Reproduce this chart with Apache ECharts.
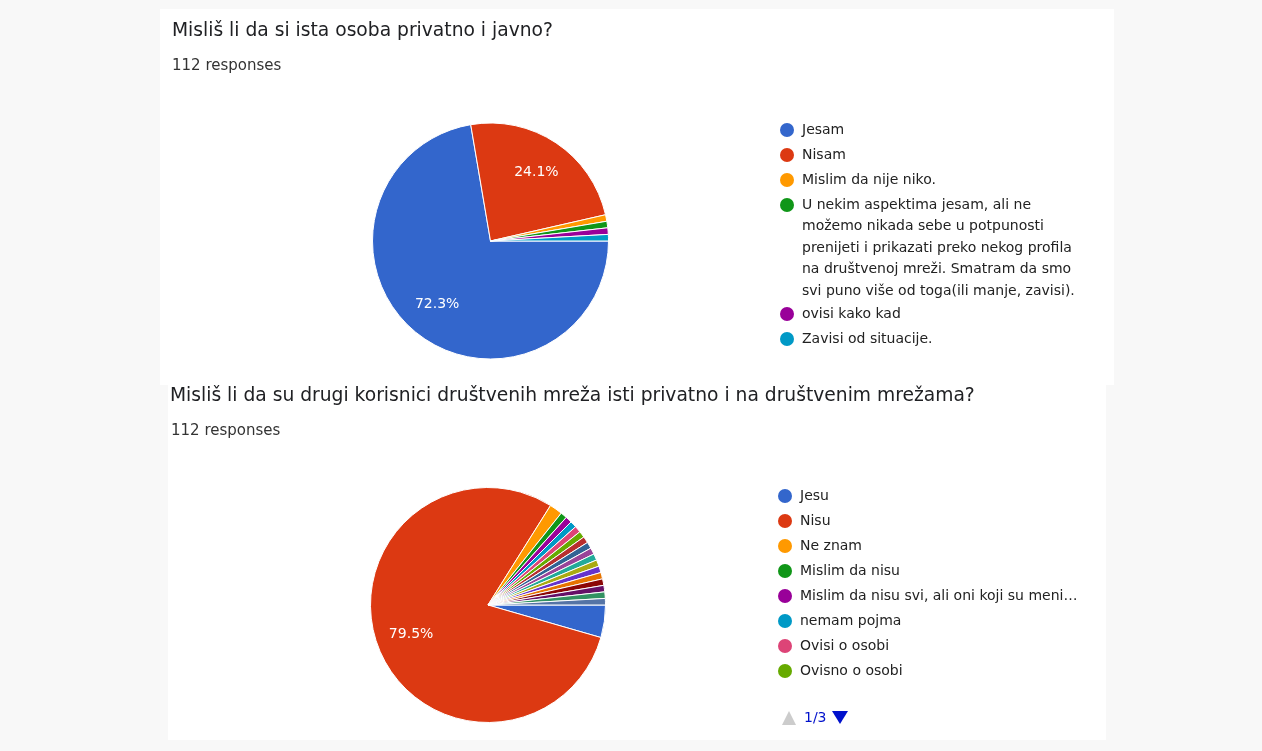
<!DOCTYPE html>
<html>
<head>
<meta charset="utf-8">
<script src="https://cdn.jsdelivr.net/npm/echarts@6/dist/echarts.min.js"></script>
<style>
  html, body { margin: 0; padding: 0; background: #f8f8f8; }
  #chart { width: 1262px; height: 751px; }
</style>
</head>
<body>
<div id="chart"></div>
<script>
// Survey results: two pie charts, one per question.
const FONT = '"DejaVu Sans", sans-serif';

// Google-style slice palette, assigned in data order.
const PALETTE = ['#3366cc', '#dc3912', '#ff9900', '#109618', '#990099', '#0099c6',
  '#dd4477', '#66aa00', '#b82e2e', '#316395', '#994499', '#22aa99', '#aaaa11',
  '#6633cc', '#e67300', '#8b0707', '#651067', '#329262', '#5574a6', '#3b3eac'];

// Question 1
const q1Title = 'Misliš li da si ista osoba privatno i javno?';
const q1Responses = '112 responses';
const q1Categories = [
  'Jesam',
  'Nisam',
  'Mislim da nije niko.',
  'U nekim aspektima jesam, ali ne možemo nikada sebe u potpunosti prenijeti i prikazati preko nekog profila na društvenoj mreži. Smatram da smo svi puno više od toga(ili manje, zavisi).',
  'ovisi kako kad',
  'Zavisi od situacije.'
];
const q1Values = [81, 27, 1, 1, 1, 1];

// Question 2 (answers past the first legend page are not listed by name)
const q2Title = 'Misliš li da su drugi korisnici društvenih mreža isti privatno i na društvenim mrežama?';
const q2Responses = '112 responses';
const q2Categories = [
  'Jesu', 'Nisu', 'Ne znam', 'Mislim da nisu',
  'Mislim da nisu svi, ali oni koji su meni…',
  'nemam pojma', 'Ovisi o osobi', 'Ovisno o osobi',
  '', '', '', '', '', '', '', '', '', '', ''
];
const q2Values = [5, 89, 2, 1, 1, 1, 1, 1, 1, 1, 1, 1, 1, 1, 1, 1, 1, 1, 1];

const LEGEND_PAGE_SIZE = 8;

// Words per line for the long legend entry of question 1.
const WRAP_WORDS_PER_LINE = [6, 5, 6, 6, 7];

function sum(arr) { return arr.reduce((a, b) => a + b, 0); }

function wrapByWords(text, counts) {
  const words = text.split(' ');
  const lines = [];
  let k = 0;
  counts.forEach(n => { lines.push(words.slice(k, k + n).join(' ')); k += n; });
  if (k < words.length) lines[lines.length - 1] += ' ' + words.slice(k).join(' ');
  return lines.join('\n');
}

function coloredData(names, values) {
  return values.map((v, i) => ({ name: names[i], value: v, itemStyle: { color: PALETTE[i] } }));
}

// Slices plus a transparent ring that carries the percentage labels,
// so the labels sit about two thirds of the way out from the centre.
function pieSeries(center, r, names, values) {
  const total = sum(values);
  return [
    {
      type: 'pie',
      center: center,
      radius: r,
      startAngle: 0,
      clockwise: true,
      avoidLabelOverlap: false,
      animation: false,
      data: coloredData(names, values),
      itemStyle: { borderColor: '#ffffff', borderWidth: 1 },
      label: { show: false },
      labelLine: { show: false },
      emphasis: { scale: false }
    },
    {
      type: 'pie',
      center: center,
      radius: [r * 0.35, r],
      startAngle: 0,
      clockwise: true,
      silent: true,
      avoidLabelOverlap: false,
      animation: false,
      data: values.map((v, i) => ({ name: names[i], value: v })),
      itemStyle: { color: 'rgba(0,0,0,0)', borderWidth: 0 },
      label: {
        show: true,
        position: 'inside',
        color: '#ffffff',
        fontFamily: FONT,
        fontSize: 14,
        textBorderWidth: 0,
        formatter: p => (p.value / total >= 0.05 ? (p.value / total * 100).toFixed(1) + '%' : '')
      },
      labelLine: { show: false },
      emphasis: { disabled: true }
    }
  ];
}

const LINE_H = 21.5;
const legendText = { fontFamily: FONT, fontSize: 14, color: '#222222', lineHeight: LINE_H };

function legend(names, left, top, extra) {
  return Object.assign({
    orient: 'vertical',
    left: left,
    top: top,
    padding: 0,
    itemGap: 3.5,
    itemWidth: 20,
    itemHeight: 14,
    icon: 'circle',
    data: names,
    itemStyle: { borderWidth: 0 },
    textStyle: Object.assign({}, legendText),
    selectedMode: false
  }, extra || {});
}

// Icon for the wrapped legend entry: circle level with the first text line.
const WRAP_H = WRAP_WORDS_PER_LINE.length * LINE_H;
const topCircleIcon = 'path://M7,0L7,0M14,10.75A7,7,0,1,1,0,10.75A7,7,0,1,1,14,10.75ZM7,' + WRAP_H + 'L7,' + WRAP_H;

const pageCount = Math.ceil(q2Categories.length / LEGEND_PAGE_SIZE);
const pagerText = '1/' + pageCount;

const titleStyle = { fontFamily: FONT, fontSize: 18.7, fontWeight: 'normal', color: '#202124', lineHeight: 24 };
const subStyle = { fontFamily: FONT, fontSize: 15, fontWeight: 'normal', color: '#333333', lineHeight: 20 };

const chart = echarts.init(document.getElementById('chart'), null, { renderer: 'canvas' });
chart.setOption({
  backgroundColor: '#f8f8f8',
  animation: false,
  title: [
    { text: q1Title, left: 172, top: 19, padding: 0, textStyle: titleStyle },
    { text: q1Responses, left: 172, top: 56, padding: 0, textStyle: subStyle },
    { text: q2Title, left: 170, top: 384, padding: 0, textStyle: titleStyle },
    { text: q2Responses, left: 171, top: 421, padding: 0, textStyle: subStyle }
  ],
  legend: [
    legend(q1Categories.slice(0, 3), 780, 119.25),
    legend(q1Categories.slice(3, 4), 780, 194.25, {
      itemHeight: WRAP_H,
      icon: topCircleIcon,
      formatter: name => wrapByWords(name, WRAP_WORDS_PER_LINE)
    }),
    legend(q1Categories.slice(4, 6), 780, 303.25),
    legend(q2Categories.slice(0, LEGEND_PAGE_SIZE), 778, 485.25)
  ],
  graphic: [
    { type: 'rect', z: -10, silent: true, shape: { x: 160, y: 9, width: 954, height: 376 }, style: { fill: '#ffffff' } },
    { type: 'rect', z: -10, silent: true, shape: { x: 168, y: 385, width: 938, height: 355 }, style: { fill: '#ffffff' } },
    { type: 'polygon', silent: true, shape: { points: [[782, 725], [796, 725], [789, 711]] }, style: { fill: '#cccccc' } },
    { type: 'text', silent: true, x: 804, y: 718, style: { text: pagerText, fill: '#0011cc', fontFamily: FONT, fontSize: 14, verticalAlign: 'middle' } },
    { type: 'polygon', silent: true, shape: { points: [[832, 711], [848, 711], [840, 724]] }, style: { fill: '#0011cc' } }
  ],
  series: [].concat(
    pieSeries([490.5, 241], 118, q1Categories, q1Values),
    pieSeries([488, 605], 117.5, q2Categories, q2Values)
  )
});
</script>
</body>
</html>
